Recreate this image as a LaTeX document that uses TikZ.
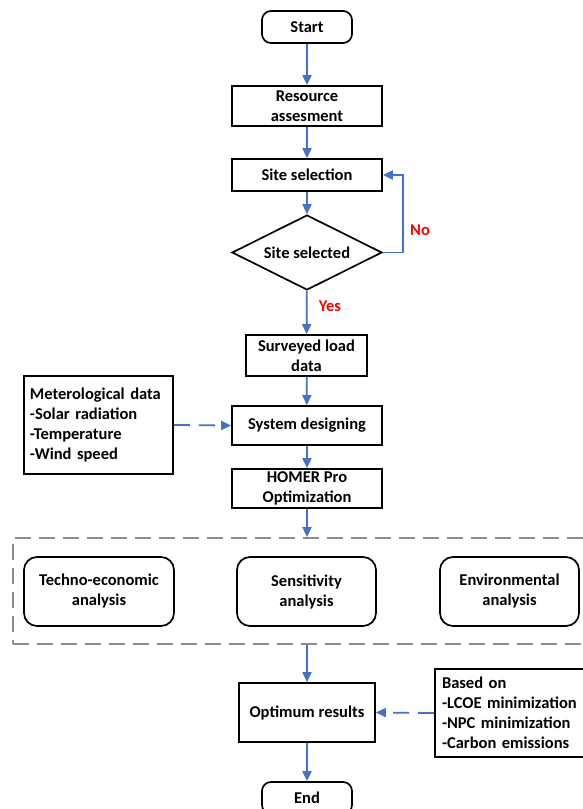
\documentclass[tikz,border=0pt]{standalone}
\usepackage{fontspec}
\setmainfont{Carlito}
\usetikzlibrary{shapes.geometric,arrows.meta}
\definecolor{flowblue}{HTML}{4472C4}
\definecolor{grpgray}{HTML}{8C8C8C}
\definecolor{lblred}{HTML}{FF0000}
\begin{document}
\begin{tikzpicture}[x=1pt,y=-1pt,
  every node/.style={font=\fontsize{16.5}{20}\selectfont\bfseries},
  procbox/.style={draw=black, line width=1.7pt, inner sep=0pt, align=center},
  termbox/.style={procbox, rounded corners=9pt},
  anabox/.style={procbox, rounded corners=13pt, minimum width=140pt, minimum height=69pt},
  decbox/.style={draw=black, line width=1.7pt, diamond, aspect=2, inner sep=0pt, minimum width=150pt, minimum height=75pt},
  notebox/.style={draw=black, line width=1.7pt, align=left, inner ysep=0pt},
  flow/.style={draw=flowblue, line width=1.8pt, -{Triangle[length=10pt,width=9pt]}},
  dflow/.style={flow, dash pattern=on 16pt off 9pt},
  lbl/.style={text=lblred}
]
\useasboundingbox (0,0) rectangle (582,809);

\node[termbox, minimum width=90pt, minimum height=32pt] (start) at (307,27) {Start};
\node[procbox, minimum width=150pt, minimum height=40pt] (res) at (307,106) {Resource\\assesment};
\node[procbox, minimum width=150pt, minimum height=32pt] (site) at (307,175) {Site selection};
\node[decbox] (dec) at (307,252.5) {Site selected};
\node[procbox, minimum width=121pt, minimum height=41pt] (load) at (306.5,355.5) {Surveyed load\\data};
\node[procbox, minimum width=150pt, minimum height=39pt] (sys) at (307,425.5) {System designing};
\node[procbox, minimum width=150pt, minimum height=39pt] (homer) at (307,488.5) {HOMER Pro\\Optimization};

\node[notebox, text width=137pt, inner xsep=6pt, minimum height=98pt] (met) at (98.5,425) {Meterological data\\-Solar radiation\\-Temperature\\-Wind speed};

\node[draw=grpgray, line width=1.8pt, dash pattern=on 16pt off 8pt, minimum width=580pt, minimum height=106pt, inner sep=0pt] (grp) at (303,591) {};
\node[anabox, minimum width=150pt] (tech) at (99,591.5) {Techno-economic\\analysis};
\node[anabox, minimum width=139pt] (sens) at (306.5,591.5) {Sensitivity\\analysis};
\node[anabox, minimum width=139pt] (env) at (509.5,591.5) {Environmental\\analysis};

\node[procbox, minimum width=136pt, minimum height=59pt] (opt) at (307,712.5) {Optimum results};
\node[notebox, text width=143pt, inner xsep=7pt, minimum height=88pt] (based) at (513.5,713) {Based on\\-LCOE minimization\\-NPC minimization\\-Carbon emissions};
\node[termbox, minimum width=90pt, minimum height=32pt] (end) at (307,798) {End};

\coordinate (loop) at (403,252.5);

\draw[flow] (start) -- (res);
\draw[flow] (res) -- (site);
\draw[flow] (site) -- (dec);
\draw[flow, -] (dec.east) -- (loop);
\draw[flow] (loop) |- (site.east);
\node[lbl] (no) at (420,230) {No};
\draw[flow] (dec) -- (load);
\node[lbl] (yes) at (330,306) {Yes};
\draw[flow] (load) -- (sys);
\draw[dflow] (met.east) -- (sys.west);
\draw[flow] (sys) -- (homer);
\draw[flow] (homer.south) -- (homer.south |- grp.north);
\draw[flow] (opt.north |- grp.south) -- (opt.north);
\draw[dflow] (based.west) -- (opt.east);
\draw[flow] (opt) -- (end);
\end{tikzpicture}
\end{document}
